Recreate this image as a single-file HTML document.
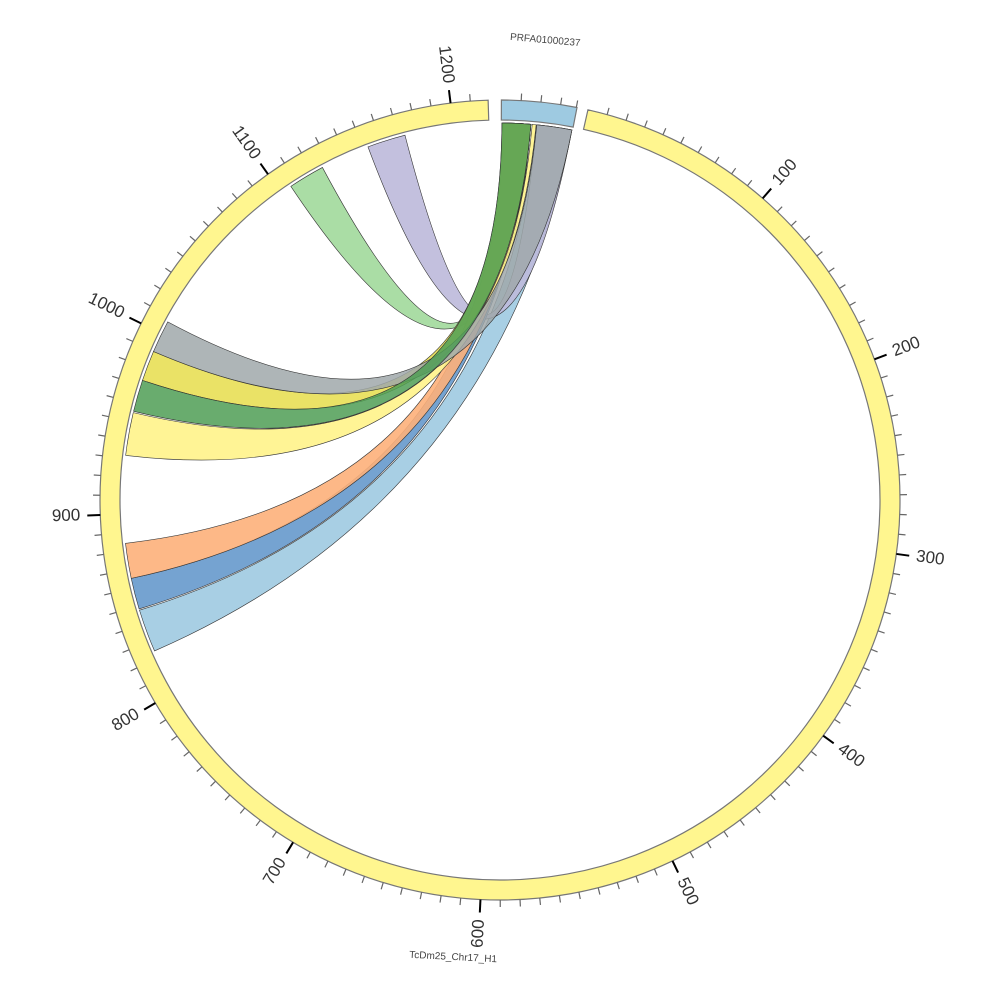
<!DOCTYPE html>
<html><head><meta charset="utf-8"><style>html,body{margin:0;padding:0;background:#fff}svg{display:block}</style></head>
<body>
<svg id="s" width="1000" height="1000" viewBox="0 0 1000 1000" xmlns="http://www.w3.org/2000/svg" font-family="Liberation Sans, sans-serif"></svg>
<script>
const S=document.getElementById('s');const C=500;
function P(a,r){const t=a*Math.PI/180;return [C+r*Math.sin(t),C-r*Math.cos(t)];}
function f(p){return p[0].toFixed(2)+' '+p[1].toFixed(2);}
let h='';
function arcSeg(a1,a2,ri,ro,fill){const large=(a2-a1)>180?1:0;
 h+=`<path d="M${f(P(a1,ro))} A${ro} ${ro} 0 ${large} 1 ${f(P(a2,ro))} L${f(P(a2,ri))} A${ri} ${ri} 0 ${large} 0 ${f(P(a1,ri))} Z" fill="${fill}" stroke="#777" stroke-width="1.2"/>`;}
const R=377;
function rib(b1,b2,s1,s2,col,op){
 h+=`<path d="M${f(P(b1,R))} A${R} ${R} 0 0 1 ${f(P(b2,R))} Q${C} ${C} ${f(P(s1,R))} A${R} ${R} 0 0 1 ${f(P(s2,R))} Q${C} ${C} ${f(P(b1,R))} Z" fill="${col}" fill-opacity="${op}" stroke="#333" stroke-width="0.6"/>`;}
rib(246.4,253,365.6,371,'#9ecae1',0.9);
rib(339.5,345.4,365.6,371,'#bcb9da',0.9);
rib(326.3,331.9,360.3,364.7,'#a1d99b',0.9);
rib(253.2,258,360.5,364.7,'#6699cc',0.9);
rib(258,263.4,360.5,364.7,'#fdb07a',0.9);
rib(276.8,283.4,364.9,365.5,'#fff38a',0.9);
rib(288.5,293.2,360.3,364.7,'#e8df55',0.9);
rib(293.2,298.2,365.6,371,'#a0a8aa',0.85);
rib(283.6,288.5,360.3,364.7,'#4f9e55',0.85);
arcSeg(12.7,358.3,380,400,'#fff68f');
arcSeg(0.2,11.1,380,400,'#9ecae1');
const k=0.2835,a0=12.7;
for(let v=0;v<=1210;v+=10){const a=a0+v*k;if(a>358.3)break;
 if(v===0)continue;
 if(v%100===0){h+=`<line x1="${P(a,400)[0]}" y1="${P(a,400)[1]}" x2="${P(a,413)[0]}" y2="${P(a,413)[1]}" stroke="#000" stroke-width="2"/>`;
  const p=P(a,420);let rot,anc;if(a<180){rot=a-90;anc='start';}else{rot=a+90;anc='end';}
   h+=`<text x="${p[0]}" y="${p[1]}" font-size="17" fill="#333" text-anchor="${anc}" dominant-baseline="middle" transform="rotate(${rot} ${p[0]} ${p[1]})">${v}</text>`;}
 else h+=`<line x1="${P(a,400)[0]}" y1="${P(a,400)[1]}" x2="${P(a,407)[0]}" y2="${P(a,407)[1]}" stroke="#666" stroke-width="1.2"/>`;}
for(let i=1;i<=3;i++){const a=0.2+i*2.84;h+=`<line x1="${P(a,400)[0]}" y1="${P(a,400)[1]}" x2="${P(a,407)[0]}" y2="${P(a,407)[1]}" stroke="#666" stroke-width="1.2"/>`;}
{const a=11.0;h+=`<line x1="${P(a,400)[0]}" y1="${P(a,400)[1]}" x2="${P(a,407)[0]}" y2="${P(a,407)[1]}" stroke="#666" stroke-width="1.2"/>`;}
h+=`<text x="545" y="43" font-size="10" fill="#444" text-anchor="middle" transform="rotate(5 545 43)">PRFA01000237</text>`;
h+=`<text x="453" y="960" font-size="10" fill="#444" text-anchor="middle" transform="rotate(3 453 960)">TcDm25_Chr17_H1</text>`;
S.innerHTML=h;
</script>
</body></html>
